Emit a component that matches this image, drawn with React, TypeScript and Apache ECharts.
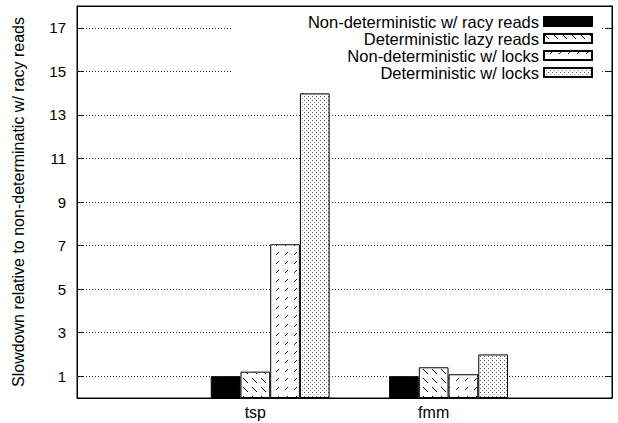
import React, { useEffect, useRef } from "react";
import * as echarts from "echarts";

const categories = ["tsp", "fmm"];
const seriesNames = [
  "Non-deterministic w/ racy reads",
  "Deterministic lazy reads",
  "Non-deterministic w/ locks",
  "Deterministic w/ locks",
];
const racyReads = [1.0, 1.0];
const lazyReads = [1.21, 1.41];
const nondetLocks = [7.06, 1.09];
const detLocks = [13.99, 2.0];
const yTickValues = [1, 3, 5, 7, 9, 11, 13, 15, 17];

const FONT = "'Liberation Sans', Arial, Helvetica, sans-serif";

function makePattern(size: number, draw: (ctx: CanvasRenderingContext2D) => void) {
  const c = document.createElement("canvas");
  c.width = size;
  c.height = size;
  const ctx = c.getContext("2d") as CanvasRenderingContext2D;
  ctx.fillStyle = "#fff";
  ctx.fillRect(0, 0, size, size);
  draw(ctx);
  return { image: c.toDataURL(), repeat: "repeat", imageWidth: size, imageHeight: size };
}

export default function App() {
  const ref = useRef<HTMLDivElement>(null);
  useEffect(() => {
    if (!ref.current) return;
    const chart = echarts.init(ref.current, undefined, { renderer: "svg" });

    const lazyPat = makePattern(9, (ctx) => {
      ctx.fillStyle = "#000";
      for (let i = 0; i < 5; i++) ctx.fillRect(i, i, 1, 1);
    });
    const locksPat = makePattern(9, (ctx) => {
      ctx.fillStyle = "#222";
      for (let i = 0; i < 3; i++) ctx.fillRect(8 - i, i, 1, 1);
    });
    const detLocksPat = makePattern(4, (ctx) => {
      ctx.fillStyle = "#555";
      ctx.fillRect(0, 0, 1, 1);
      ctx.fillStyle = "#888";
      ctx.fillRect(2, 2, 1, 1);
    });

    const fills: any[] = ["#000", lazyPat, locksPat, detLocksPat];
    const allValues = [racyReads, lazyReads, nondetLocks, detLocks];
    const offsets = [-1 / 6, 0, 1 / 6, 2 / 6];

    const series: any[] = allValues.map((vals, k) => ({
      name: seriesNames[k],
      type: "bar",
      barWidth: 29.7,
      barGap: "-100%",
      data: vals.map((v, i) => [i + offsets[k], v]),
      itemStyle: { color: fills[k], borderColor: "#000", borderWidth: 1 },
      emphasis: { disabled: true },
      z: 3,
    }));
    series[0].markLine = {
      silent: true,
      symbol: ["none", "none"],
      z: 1,
      label: { show: false },
      lineStyle: { type: [1, 2], color: "#333", width: 1 },
      data: yTickValues.map((v) => ({ yAxis: v })),
    };

    const xBase = {
      type: "value",
      min: -1,
      max: 2,
      interval: 1,
      axisLine: { show: true, onZero: false, lineStyle: { color: "#000", width: 1 } },
      axisTick: { show: true, inside: true, length: 6, customValues: [0, 1], lineStyle: { color: "#000" } },
      splitLine: { show: false },
    };
    const yBase = {
      type: "value",
      min: 0,
      max: 18,
      interval: 1,
      axisLine: { show: true, onZero: false, lineStyle: { color: "#000", width: 1 } },
      axisTick: { show: true, inside: true, length: 6, customValues: yTickValues, lineStyle: { color: "#000" } },
      splitLine: { show: false },
    };

    chart.setOption({
      animation: false,
      grid: {
        left: 77,
        right: 6,
        top: 6,
        bottom: 25,
        show: true,
        borderColor: "#000",
        borderWidth: 1,
        backgroundColor: "transparent",
      },
      legend: {
        orient: "vertical",
        align: "right",
        right: 18,
        top: 7,
        padding: [6, 7, 4, 76],
        itemGap: 0,
        itemWidth: 48,
        itemHeight: 9,
        icon: "rect",
        backgroundColor: "#fff",
        selectedMode: false,
        textStyle: { fontSize: 16.5, lineHeight: 16.3, fontFamily: FONT, color: "#000" },
        data: seriesNames,
      },
      xAxis: [
        {
          ...xBase,
          position: "bottom",
          axisLabel: {
            customValues: [0, 1],
            formatter: (v: number) => categories[Math.round(v)] ?? "",
            fontSize: 16,
            fontFamily: FONT,
            color: "#000",
            margin: 6,
          },
        },
        { ...xBase, position: "top", axisLabel: { show: false } },
      ],
      yAxis: [
        {
          ...yBase,
          position: "left",
          name: "Slowdown relative to non-determinatic w/ racy reads",
          nameLocation: "middle",
          nameGap: 51,
          nameTextStyle: { fontSize: 16, fontFamily: FONT, color: "#000" },
          axisLabel: {
            customValues: yTickValues,
            fontSize: 15,
            fontFamily: FONT,
            color: "#000",
            margin: 11,
          },
        },
        { ...yBase, position: "right", axisLabel: { show: false } },
      ],
      series,
    });
    return () => chart.dispose();
  }, []);
  return <div ref={ref} style={{ width: 618, height: 423, position: "absolute", left: 0, top: 0 }} />;
}
